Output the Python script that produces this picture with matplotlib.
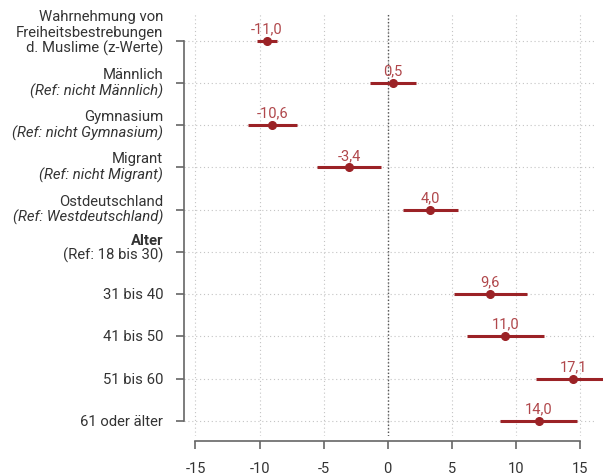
import matplotlib.pyplot as plt
from matplotlib.transforms import offset_copy, blended_transform_factory

plt.rcParams['font.family'] = ['Roboto', 'DejaVu Sans']

# label lines for each row: (text, style, weight)
row_labels = [
    [("Wahrnehmung von", "normal", "normal"),
     ("Freiheitsbestrebungen", "normal", "normal"),
     ("d. Muslime (z-Werte)", "normal", "normal")],
    [("Männlich", "normal", "normal"), ("(Ref: nicht Männlich)", "italic", "normal")],
    [("Gymnasium", "normal", "normal"), ("(Ref: nicht Gymnasium)", "italic", "normal")],
    [("Migrant", "normal", "normal"), ("(Ref: nicht Migrant)", "italic", "normal")],
    [("Ostdeutschland", "normal", "normal"), ("(Ref: Westdeutschland)", "italic", "normal")],
    [("Alter", "normal", "bold"), ("(Ref: 18 bis 30)", "normal", "normal")],
    [("31 bis 40", "normal", "normal")],
    [("41 bis 50", "normal", "normal")],
    [("51 bis 60", "normal", "normal")],
    [("61 oder älter", "normal", "normal")],
]

estimates = [-9.45, 0.4, -9.0, -3.0, 3.3, None, 8.0, 9.2, 14.5, 11.8]
lower = [-10.2, -1.4, -10.9, -5.5, 1.2, None, 5.2, 6.2, 11.6, 8.75]
upper = [-8.6, 2.2, -7.1, -0.5, 5.5, None, 10.9, 12.2, 16.8, 14.8]
value_labels = ["-11,0", "0,5", "-10,6", "-3,4", "4,0", None,
                "9,6", "11,0", "17,1", "14,0"]

xticks = [-15, -10, -5, 0, 5, 10, 15]

dark_red = "#9b2226"
label_red = "#b0474b"
text_grey = "#333333"
axis_grey = "#666666"

fig = plt.figure(figsize=(6.03, 4.77), dpi=100)
ax = fig.add_axes([0.305, 0.084, 0.682, 0.885])

ypos = list(range(len(row_labels)))

for y, est, lo, hi, lab in zip(ypos, estimates, lower, upper, value_labels):
    if est is None:
        continue
    ax.plot([lo, hi], [y, y], color=dark_red, lw=2.2, solid_capstyle="butt",
            clip_on=False, zorder=3)
    ax.plot(est, y, "o", color=dark_red, ms=5.5, clip_on=False, zorder=4)
    ax.annotate(lab, (est, y), xytext=(0, 4), textcoords="offset points",
                ha="center", va="bottom", color=label_red, fontsize=10.5)

ax.axvline(0, color="#555555", lw=1, ls=(0, (1, 1.5)), zorder=1)

ax.set_xlim(-15.9, 16.2)
ax.set_ylim(9.36, -0.64)
ax.set_xticks(xticks)
ax.set_xticklabels([str(t) for t in xticks])
ax.set_yticks(ypos)
ax.set_yticklabels([])

ax.grid(True, color="#c4c4c4", lw=0.8, ls=(0, (1, 2.5)))
ax.set_axisbelow(True)

for s in ["top", "right"]:
    ax.spines[s].set_visible(False)
ax.spines["left"].set_bounds(0, 9)
ax.spines["bottom"].set_bounds(-15, 15)
ax.spines["bottom"].set_position(("outward", 4))
ax.spines["left"].set_color(axis_grey)
ax.spines["bottom"].set_color(axis_grey)
ax.spines["left"].set_linewidth(1.2)
ax.spines["bottom"].set_linewidth(1.2)
ax.tick_params(axis="both", colors=axis_grey, length=6, width=1.2,
               labelcolor=text_grey, labelsize=10.5)
ax.tick_params(axis="x", pad=8)

# multi-line tick labels with mixed styles
trans = blended_transform_factory(ax.transAxes, ax.transData)
line_h = 11.5  # points
for y, lines in zip(ypos, row_labels):
    n = len(lines)
    if n == 1:
        offsets = [0]
    elif lines[0][0] == "Alter":
        offsets = [8.6, -1.5]
    else:
        offsets = [-5 + line_h * (n - 1 - i) for i in range(n)]
    for (txt, style, weight), off in zip(lines, offsets):
        t = offset_copy(trans, fig=fig, x=-15, y=off, units="points")
        ax.text(0, y, txt, transform=t, ha="right", va="center",
                fontsize=10.7, style=style, fontweight=weight, color=text_grey)

fig.savefig("out.png", dpi=100)
